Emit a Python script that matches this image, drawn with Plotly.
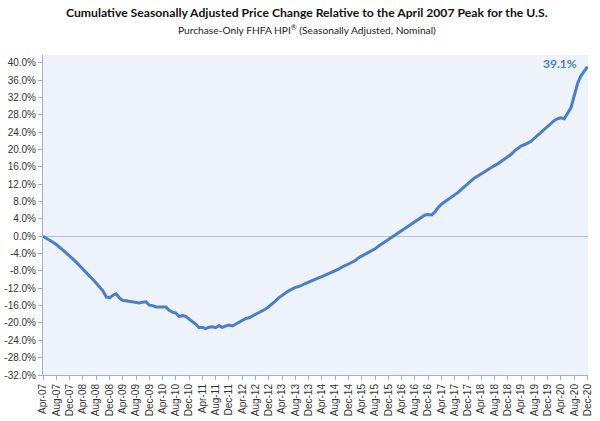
import pandas as pd
import plotly.graph_objects as go

months = pd.date_range("2007-04-01", "2020-12-01", freq="MS")

pct_change = [
    0.0, -0.4, -0.9, -1.4, -1.9, -2.5, -3.2, -3.9, -4.5, -5.3, -6.0, -6.8,
    -7.6, -8.6, -9.2, -9.9, -10.8, -11.8, -12.6, -14.0, -14.2, -13.6, -13.3, -14.2,
    -14.8, -14.9, -15.0, -15.2, -15.3, -15.4, -15.2, -15.1, -15.9, -16.0, -16.3, -16.3,
    -16.2, -16.3, -17.1, -17.5, -17.7, -18.5, -18.3, -18.5, -19.1, -19.6, -20.3, -21.1,
    -21.0, -21.3, -21.0, -20.9, -21.1, -20.6, -21.0, -20.7, -20.5, -20.7, -20.3, -19.8,
    -19.4, -19.0, -18.8, -18.4, -18.1, -17.7, -17.2, -16.8, -16.2, -15.6, -14.9, -14.2,
    -13.6, -13.0, -12.6, -12.2, -11.8, -11.6, -11.2, -10.9, -10.6, -10.2, -9.9, -9.6,
    -9.3, -9.0, -8.6, -8.3, -7.9, -7.6, -7.1, -6.8, -6.4, -6.0, -5.6, -5.0,
    -4.6, -4.2, -3.8, -3.3, -2.9, -2.3, -1.8, -1.3, -0.9, -0.3, 0.3, 0.8,
    1.2, 1.7, 2.2, 2.7, 3.3, 3.8, 4.3, 4.9, 5.0, 4.9, 5.6, 6.6,
    7.4, 7.9, 8.4, 8.9, 9.5, 10.1, 10.8, 11.5, 12.0, 12.8, 13.5, 13.9,
    14.4, 15.0, 15.3, 15.8, 16.3, 16.7, 17.2, 17.8, 18.3, 18.9, 19.7, 20.3,
    20.8, 21.1, 21.5, 21.9, 22.6, 23.3, 23.9, 24.5, 25.2, 26.0, 26.7, 27.1,
    27.3, 27.1, 28.4, 29.6, 32.4, 35.3, 37.0, 38.0, 39.1,
]

y_ticks = list(range(-32, 41, 4))

title = "Cumulative Seasonally Adjusted Price Change Relative to the April 2007 Peak for the U.S."
subtitle = "Purchase-Only FHFA HPI<sup>®</sup> (Seasonally Adjusted, Nominal)"
end_label = "39.1%"

line_color = "#4a7ec9"

fig = go.Figure()
fig.add_trace(go.Scatter(
    x=months, y=pct_change, mode="lines",
    line=dict(color=line_color, width=3),
    showlegend=False, hoverinfo="skip",
))

fig.add_annotation(
    x=months[-1], y=pct_change[-1], text="<b>" + end_label + "</b>",
    showarrow=False, xanchor="right", yanchor="bottom", xshift=-9, yshift=-6,
    font=dict(family="Lato, Open Sans, sans-serif", size=12, color=line_color),
)

fig.add_annotation(
    x=0.485, y=1, xref="paper", yref="paper", xanchor="center", yanchor="middle",
    text="<b>" + title + "</b>", showarrow=False, yshift=43,
    font=dict(family="Lato, Open Sans, sans-serif", size=12.2, color="#111111"),
)
fig.add_annotation(
    x=0.485, y=1, xref="paper", yref="paper", xanchor="center", yanchor="middle",
    text=subtitle, showarrow=False, yshift=26,
    font=dict(family="Lato, Open Sans, sans-serif", size=10.2, color="#222222"),
)

fig.update_layout(
    width=600, height=421,
    margin=dict(l=43, r=12, t=55, b=46, autoexpand=False),
    paper_bgcolor="white",
    plot_bgcolor="#eef2fa",
    font=dict(family="Liberation Sans, Arial, sans-serif", size=10, color="#333333"),
)

fig.update_xaxes(
    type="date", automargin=False,
    range=[months[0], months[-1] + pd.Timedelta(days=4)],
    tick0=months[0], dtick="M4", tickformat="%b-%y",
    tickangle=-90, ticks="outside", ticklen=4, tickcolor="#9ab0d6",
    showgrid=False, zeroline=False,
    showline=True, linecolor="#9ab0d6", linewidth=1,
    tickfont=dict(size=10, color="#333333"),
)
fig.update_yaxes(
    automargin=False,
    range=[-32, 41.8],
    tickvals=y_ticks, ticktext=[f"{v:.1f}%" for v in y_ticks],
    ticks="outside", ticklen=4, tickcolor="#9ab0d6",
    showgrid=False,
    zeroline=True, zerolinecolor="#a9c0e4", zerolinewidth=1,
    showline=True, linecolor="#9ab0d6", linewidth=1,
    tickfont=dict(size=10, color="#333333"),
)

fig.write_html(
    "out.html",
    config={"displayModeBar": False},
    post_script="document.body.style.margin='0';document.body.style.overflow='hidden';",
)
